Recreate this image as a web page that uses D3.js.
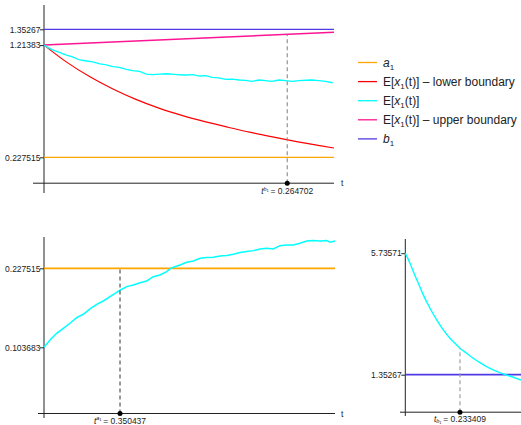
<!DOCTYPE html>
<html><head><meta charset="utf-8">
<script src="https://cdn.jsdelivr.net/npm/d3@7"></script>
<style>
html,body{margin:0;padding:0;background:#fff;}
svg{display:block;font-family:"Liberation Sans",Arial,sans-serif;}
</style></head>
<body>
<svg id="chart" width="521" height="425"></svg>
<script>
// ---------- DATA ----------
const a1 = 0.227515;
const b1 = 1.35267;
const topStart = 1.21383;
const tB1Top = 0.264702;     // t^{b1}
const tA1 = 0.350437;        // t^{a1}
const tB1Right = 0.233409;   // t_{b1}
const bottomStart = 0.103683;
const rightStart = 5.73571;

// top panel
const topT = [0, 0.025, 0.05, 0.075, 0.1, 0.125, 0.15, 0.175, 0.2, 0.225, 0.25, 0.275, 0.3, 0.3156];
const topLower = [1.21383, 1.062, 0.935, 0.828, 0.737, 0.66, 0.596, 0.541, 0.492, 0.446, 0.405, 0.366, 0.330, 0.309];
const topUpperT = [0, 0.3156];
const topUpper = [1.21383, 1.326];
const topMeanT = [0, 0.005, 0.0101, 0.016, 0.0245, 0.031, 0.039, 0.0462, 0.053, 0.0607, 0.068, 0.0748, 0.082, 0.0896, 0.0964, 0.104, 0.1113, 0.118, 0.1257, 0.133, 0.1398, 0.147, 0.1546, 0.162, 0.169, 0.176, 0.1831, 0.19, 0.1979, 0.205, 0.2123, 0.219, 0.2264, 0.234, 0.2413, 0.2481, 0.2557, 0.263, 0.2698, 0.2774, 0.285, 0.2915, 0.299, 0.3063, 0.3142];
const topMean = [1.21383, 1.19, 1.17, 1.152, 1.126, 1.11, 1.083, 1.074, 1.066, 1.048, 1.04, 1.024, 1.018, 1.001, 0.989, 0.982, 0.959, 0.955, 0.959, 0.962, 0.959, 0.953, 0.951, 0.954, 0.942, 0.945, 0.931, 0.926, 0.913, 0.915, 0.907, 0.903, 0.895, 0.907, 0.901, 0.895, 0.907, 0.901, 0.895, 0.901, 0.905, 0.907, 0.902, 0.895, 0.883];

// bottom-left panel
const blT = [0, 0.0277, 0.0584, 0.0891, 0.1199, 0.1506, 0.1813, 0.2121, 0.2428, 0.2735, 0.3043, 0.3350, 0.3504, 0.3811, 0.4118, 0.4426, 0.4733, 0.5040, 0.5348, 0.5655, 0.5809, 0.5962, 0.6270, 0.6577, 0.6884, 0.7192, 0.7499, 0.7806, 0.8114, 0.8421, 0.8728, 0.9036, 0.9343, 0.9650, 0.9958, 1.0265, 1.0572, 1.0880, 1.1187, 1.1494, 1.1802, 1.2109, 1.2416, 1.2724, 1.3031, 1.3185, 1.3416];
const blMean = [0.103683, 0.1152, 0.1257, 0.1335, 0.1414, 0.1502, 0.1555, 0.1638, 0.1711, 0.1763, 0.1831, 0.1899, 0.1931, 0.1988, 0.2014, 0.2050, 0.2077, 0.2144, 0.2171, 0.2223, 0.2265, 0.2291, 0.2328, 0.2370, 0.2390, 0.2432, 0.2443, 0.2448, 0.2469, 0.2474, 0.2495, 0.2521, 0.2537, 0.2552, 0.2578, 0.2589, 0.2578, 0.2630, 0.2641, 0.2641, 0.2667, 0.2704, 0.2709, 0.2704, 0.2709, 0.2683, 0.2704];

// bottom-right panel
const brT = [0, 0.0200, 0.0341, 0.0555, 0.0768, 0.1054, 0.1340, 0.1621, 0.1907, 0.2193, 0.2334, 0.2619, 0.2901, 0.3187, 0.3473, 0.3754, 0.4040, 0.4326, 0.4612, 0.4940];
const brMean = [5.73571, 5.375, 5.072, 4.653, 4.231, 3.751, 3.329, 2.968, 2.668, 2.426, 2.307, 2.126, 1.946, 1.787, 1.643, 1.523, 1.426, 1.343, 1.260, 1.162];

// ticks
const topTicks = [1.35267, 1.21383, 0.227515];
const topTickLabels = ["1.35267", "1.21383", "0.227515"];
const blTicks = [0.227515, 0.103683];
const blTickLabels = ["0.227515", "0.103683"];
const brTicks = [5.73571, 1.35267];
const brTickLabels = ["5.73571", "1.35267"];

// legend
const legendKeys = ["a", "lower", "mean", "upper", "b"];
const legendColors = ["#FFA500", "#FF0000", "#00FFFF", "#FF1493", "#4F3AE6"];

// ---------- DRAW ----------
const svg = d3.select("#chart");
svg.append("rect").attr("width", 521).attr("height", 425).attr("fill", "#fff");
const C = {orange: legendColors[0], red: legendColors[1], cyan: legendColors[2], pink: legendColors[3], blue: legendColors[4]};
const axisColor = "#222";
const fs = 8.5;

function yAxis(g, scale, vals, labels) {
  const ax = d3.axisLeft(scale).tickValues(vals).tickSize(4).tickSizeOuter(0)
    .tickFormat((d, i) => labels[i]);
  g.call(ax);
  g.select(".domain").remove();
  g.selectAll(".tick line").attr("stroke", axisColor);
  g.selectAll(".tick text").attr("font-size", fs).attr("fill", "#222")
    .attr("font-family", "Liberation Sans, Arial, sans-serif").attr("x", -3.5);
}

function lineOf(x, y, ts, vs, curve) {
  return d3.line().x((d, i) => x(ts[i])).y(d => y(d)).curve(curve || d3.curveMonotoneX)(vs);
}

// ===== TOP PANEL =====
{
  const x = d3.scaleLinear().domain([0, 0.3156]).range([44, 334]);
  const y = d3.scaleLinear().domain([0, b1]).range([183.2, 29.3]);
  const g = svg.append("g");
  g.append("line").attr("x1", 33).attr("x2", 334).attr("y1", y(0)).attr("y2", y(0)).attr("stroke", axisColor).attr("stroke-width", 1);
  g.append("line").attr("x1", x(0)).attr("x2", x(0)).attr("y1", 5).attr("y2", 193).attr("stroke", axisColor).attr("stroke-width", 1);
  g.append("text").attr("x", 341).attr("y", y(0) + 3).attr("font-size", fs).attr("fill", "#222").text("t");
  yAxis(g.append("g").attr("transform", `translate(${x(0)},0)`), y, topTicks, topTickLabels);

  g.append("line").attr("x1", x(0)).attr("x2", x(0.3156)).attr("y1", y(a1)).attr("y2", y(a1)).attr("stroke", C.orange).attr("stroke-width", 1.3);
  g.append("line").attr("x1", x(0)).attr("x2", x(0.3156)).attr("y1", y(b1)).attr("y2", y(b1)).attr("stroke", C.blue).attr("stroke-width", 1.3);
  g.append("path").attr("d", lineOf(x, y, topUpperT, topUpper, d3.curveLinear)).attr("fill", "none").attr("stroke", C.pink).attr("stroke-width", 1.5);
  g.append("path").attr("d", lineOf(x, y, topT, topLower)).attr("fill", "none").attr("stroke", C.red).attr("stroke-width", 1.2);
  g.append("path").attr("d", lineOf(x, y, topMeanT, topMean, d3.curveLinear)).attr("fill", "none").attr("stroke", C.cyan).attr("stroke-width", 1.3);
  const upAt = topUpper[0] + (topUpper[1] - topUpper[0]) * tB1Top / topUpperT[1];
  g.append("line").attr("x1", x(tB1Top)).attr("x2", x(tB1Top)).attr("y1", y(0)).attr("y2", y(upAt)).attr("stroke", "#888").attr("stroke-width", 1.1).attr("stroke-dasharray", "4,3");
  g.append("circle").attr("cx", x(tB1Top)).attr("cy", y(0)).attr("r", 2.5).attr("fill", "#000");
  const t = g.append("text").attr("x", x(tB1Top)).attr("y", y(0) + 11).attr("font-size", fs).attr("fill", "#222").attr("text-anchor", "middle");
  t.append("tspan").attr("font-style", "italic").text("t");
  t.append("tspan").attr("font-size", 5.5).attr("dy", -3.5).attr("font-style", "italic").text("b");
  t.append("tspan").attr("font-size", 4).attr("dy", 1).text("1");
  t.append("tspan").attr("dy", 2.5).text("\u2009= " + tB1Top);
}

// ===== LEGEND =====
{
  const g = svg.append("g");
  const y0 = 62.5, dy = 19.1;
  legendKeys.forEach((k, i) => {
    const yy = y0 + i * dy;
    g.append("line").attr("x1", 358).attr("x2", 377).attr("y1", yy).attr("y2", yy).attr("stroke", legendColors[i]).attr("stroke-width", 1.3);
    const t = g.append("text").attr("x", 383).attr("y", yy + 4).attr("font-size", 12).attr("fill", "#222");
    if (k === "a" || k === "b") {
      t.append("tspan").attr("font-style", "italic").text(k);
      t.append("tspan").attr("font-size", 8).attr("dy", 3).text("1");
    } else {
      t.append("tspan").text("E[");
      t.append("tspan").attr("font-style", "italic").text("x");
      t.append("tspan").attr("font-size", 8).attr("dy", 3).text("1");
      t.append("tspan").attr("dy", -3).text("(t)]" + (k === "lower" ? " \u2013 lower boundary" : k === "upper" ? " \u2013 upper boundary" : ""));
    }
  });
}

// ===== BOTTOM-LEFT PANEL =====
{
  const x = d3.scaleLinear().domain([0, 1.3416]).range([44, 335]);
  const y = d3.scaleLinear().domain([0, a1]).range([413.5, 268.3]);
  const g = svg.append("g");
  g.append("line").attr("x1", 38).attr("x2", 335).attr("y1", y(0)).attr("y2", y(0)).attr("stroke", axisColor).attr("stroke-width", 1);
  g.append("line").attr("x1", x(0)).attr("x2", x(0)).attr("y1", 237).attr("y2", 418).attr("stroke", axisColor).attr("stroke-width", 1);
  g.append("text").attr("x", 341).attr("y", y(0) + 3).attr("font-size", fs).attr("fill", "#222").text("t");
  yAxis(g.append("g").attr("transform", `translate(${x(0)},0)`), y, blTicks, blTickLabels);
  g.append("line").attr("x1", x(0)).attr("x2", x(1.3416)).attr("y1", y(a1)).attr("y2", y(a1)).attr("stroke", C.orange).attr("stroke-width", 1.8);
  g.append("path").attr("d", lineOf(x, y, blT, blMean, d3.curveLinear)).attr("fill", "none").attr("stroke", C.cyan).attr("stroke-width", 1.5);
  g.append("line").attr("x1", x(tA1)).attr("x2", x(tA1)).attr("y1", y(0)).attr("y2", y(a1)).attr("stroke", "#555").attr("stroke-width", 1.2).attr("stroke-dasharray", "4,3");
  g.append("circle").attr("cx", x(tA1)).attr("cy", y(0)).attr("r", 2.5).attr("fill", "#000");
  const t = g.append("text").attr("x", x(tA1)).attr("y", y(0) + 10).attr("font-size", fs).attr("fill", "#222").attr("text-anchor", "middle");
  t.append("tspan").attr("font-style", "italic").text("t");
  t.append("tspan").attr("font-size", 5.5).attr("dy", -3.5).attr("font-style", "italic").text("a");
  t.append("tspan").attr("font-size", 4).attr("dy", 1).text("1");
  t.append("tspan").attr("dy", 2.5).text("\u2009= " + tA1);
}

// ===== BOTTOM-RIGHT PANEL =====
{
  const x = d3.scaleLinear().domain([0, 0.4940]).range([405.3, 521]);
  const y = d3.scaleLinear().domain([0, b1]).range([412.2, 374.7]);
  const g = svg.append("g");
  g.append("line").attr("x1", 400).attr("x2", 521).attr("y1", y(0)).attr("y2", y(0)).attr("stroke", axisColor).attr("stroke-width", 1);
  g.append("line").attr("x1", x(0)).attr("x2", x(0)).attr("y1", 239).attr("y2", 416).attr("stroke", axisColor).attr("stroke-width", 1);
  yAxis(g.append("g").attr("transform", `translate(${x(0)},0)`), y, brTicks, brTickLabels);
  g.append("line").attr("x1", x(0)).attr("x2", 521).attr("y1", y(b1)).attr("y2", y(b1)).attr("stroke", C.blue).attr("stroke-width", 1.8);
  g.append("path").attr("d", lineOf(x, y, brT, brMean)).attr("fill", "none").attr("stroke", C.cyan).attr("stroke-width", 1.4);
  const at = brMean[brT.indexOf(0.2334)];
  g.append("line").attr("x1", x(tB1Right)).attr("x2", x(tB1Right)).attr("y1", y(0)).attr("y2", y(at)).attr("stroke", "#999").attr("stroke-width", 1.1).attr("stroke-dasharray", "4,3");
  g.append("circle").attr("cx", x(tB1Right)).attr("cy", y(0)).attr("r", 2.5).attr("fill", "#000");
  const t = g.append("text").attr("x", x(tB1Right)).attr("y", y(0) + 9.5).attr("font-size", fs).attr("fill", "#222").attr("text-anchor", "middle");
  t.append("tspan").attr("font-style", "italic").text("t");
  t.append("tspan").attr("font-size", 5.5).attr("dy", 1.2).attr("font-style", "italic").text("b");
  t.append("tspan").attr("font-size", 4).attr("dy", 0.6).text("1");
  t.append("tspan").attr("dy", -1.8).text("\u2009= " + tB1Right);
}
</script>
</body></html>
